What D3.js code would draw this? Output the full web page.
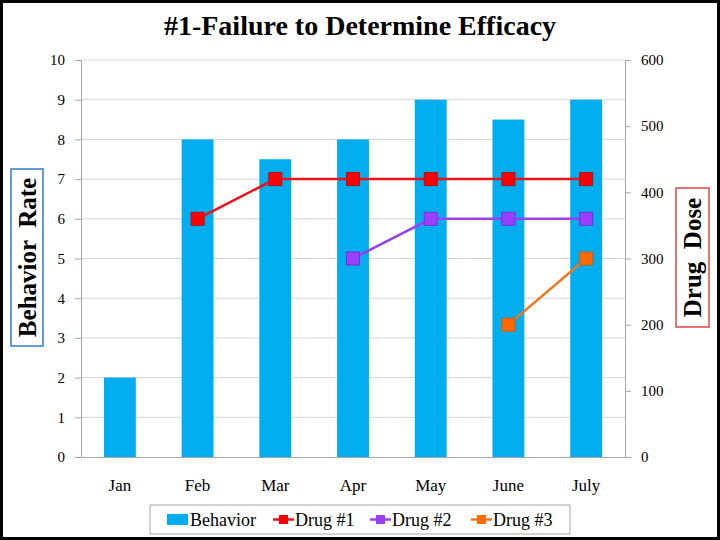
<!DOCTYPE html>
<html>
<head>
<meta charset="utf-8">
<script src="https://cdn.jsdelivr.net/npm/d3@7"></script>
<style>
  body { margin: 0; background: #fff; }
  text { font-family: "Liberation Serif", "DejaVu Serif", serif; }
</style>
</head>
<body>
<svg id="chart" width="720" height="540"></svg>
<script>
// chart data
var months = ['Jan', 'Feb', 'Mar', 'Apr', 'May', 'June', 'July'];
var behavior = [2, 8, 7.5, 8, 9, 8.5, 9];
var drug1 = [null, 360, 420, 420, 420, 420, 420];
var drug2 = [null, null, null, 300, 360, 360, 360];
var drug3 = [null, null, null, null, null, 200, 300];
var leftTicks = [0, 1, 2, 3, 4, 5, 6, 7, 8, 9, 10];
var rightTicks = [0, 100, 200, 300, 400, 500, 600];

var svg = d3.select('#chart');

// outer frame
svg.append('rect')
  .attr('x', 1.5).attr('y', 1.5)
  .attr('width', 717).attr('height', 537)
  .attr('fill', '#fff')
  .attr('stroke', '#000')
  .attr('stroke-width', 3);

var plot = {left: 81, right: 625, top: 60, bottom: 457};

var x = d3.scaleBand()
  .domain(months)
  .range([plot.left, plot.right])
  .paddingInner(0.59)
  .paddingOuter(0.295);

var xc = function(m) { return x(m) + x.bandwidth() / 2; };

var yL = d3.scaleLinear().domain([0, 10]).range([plot.bottom, plot.top]);
var yR = d3.scaleLinear().domain([0, 600]).range([plot.bottom, plot.top]);

// gridlines
svg.append('g')
  .selectAll('line')
  .data(leftTicks.slice(1))
  .enter()
  .append('line')
  .attr('x1', plot.left).attr('x2', plot.right)
  .attr('y1', function(d) { return yL(d); })
  .attr('y2', function(d) { return yL(d); })
  .attr('stroke', '#d4d4d4')
  .attr('stroke-width', 1);

// bars
svg.append('g')
  .selectAll('rect')
  .data(behavior)
  .enter()
  .append('rect')
  .attr('x', function(d, i) { return x(months[i]); })
  .attr('width', x.bandwidth())
  .attr('y', function(d) { return yL(d); })
  .attr('height', function(d) { return plot.bottom - yL(d); })
  .attr('fill', '#00AEEF');

// axes
var leftAxis = svg.append('g')
  .attr('transform', 'translate(' + plot.left + ',0)')
  .call(d3.axisLeft(yL).tickValues(leftTicks).tickSize(6).tickPadding(10));

var rightAxis = svg.append('g')
  .attr('transform', 'translate(' + plot.right + ',0)')
  .call(d3.axisRight(yR).tickValues(rightTicks).tickSize(6).tickPadding(10));

var bottomAxis = svg.append('g')
  .attr('transform', 'translate(0,' + plot.bottom + ')')
  .call(d3.axisBottom(x).tickSize(0).tickPadding(22));

[leftAxis, rightAxis, bottomAxis].forEach(function(a) {
  a.selectAll('path, line').attr('stroke', '#a6a6a6');
  a.selectAll('text')
    .attr('fill', '#000')
    .style('font-family', '"Liberation Serif", serif')
    .style('font-size', '15px');
});
bottomAxis.select('path').attr('stroke', '#a6a6a6');
bottomAxis.selectAll('text').style('font-size', '17px');

// drug lines
var drugs = [
  {name: 'Drug #1', values: drug1, color: '#E8141C', marker: '#FF0000', edge: '#B0101A'},
  {name: 'Drug #2', values: drug2, color: '#9B3FF0', marker: '#9B3FFF', edge: '#7A2FD0'},
  {name: 'Drug #3', values: drug3, color: '#F27420', marker: '#FF6A00', edge: '#D05A10'}
];

var line = d3.line()
  .defined(function(d) { return d.v !== null; })
  .x(function(d) { return xc(d.m); })
  .y(function(d) { return yR(d.v); });

drugs.forEach(function(s) {
  var pts = s.values.map(function(v, i) { return {m: months[i], v: v}; });
  svg.append('path')
    .datum(pts)
    .attr('d', line)
    .attr('fill', 'none')
    .attr('stroke', s.color)
    .attr('stroke-width', 2.5);
  svg.append('g')
    .selectAll('rect')
    .data(pts.filter(function(d) { return d.v !== null; }))
    .enter()
    .append('rect')
    .attr('x', function(d) { return xc(d.m) - 6.5; })
    .attr('y', function(d) { return yR(d.v) - 6.5; })
    .attr('width', 13).attr('height', 13)
    .attr('fill', s.marker)
    .attr('stroke', s.edge)
    .attr('stroke-width', 1);
});

// title
svg.append('text')
  .attr('x', 360).attr('y', 35)
  .attr('text-anchor', 'middle')
  .style('font-size', '28px')
  .style('font-weight', 'bold')
  .text('#1-Failure to Determine Efficacy');

// axis titles in boxes
svg.append('rect')
  .attr('x', 11).attr('y', 169).attr('width', 32).attr('height', 177)
  .attr('fill', 'none').attr('stroke', '#2E7BD0').attr('stroke-width', 1.5);
svg.append('text')
  .attr('transform', 'translate(36,257.5) rotate(-90)')
  .attr('text-anchor', 'middle')
  .style('font-size', '25px')
  .style('font-weight', 'bold')
  .style('white-space', 'pre')
  .text('Behavior  Rate');

svg.append('rect')
  .attr('x', 676).attr('y', 188).attr('width', 33).attr('height', 139)
  .attr('fill', 'none').attr('stroke', '#E04848').attr('stroke-width', 1.5);
svg.append('text')
  .attr('transform', 'translate(701,257.5) rotate(-90)')
  .attr('text-anchor', 'middle')
  .style('font-size', '25px')
  .style('font-weight', 'bold')
  .style('white-space', 'pre')
  .text('Drug  Dose');

// legend
var legend = svg.append('g');
legend.append('rect')
  .attr('x', 150).attr('y', 505).attr('width', 420).attr('height', 29)
  .attr('fill', '#fff').attr('stroke', '#a6a6a6').attr('stroke-width', 1);

legend.append('rect')
  .attr('x', 167).attr('y', 514).attr('width', 21).attr('height', 11)
  .attr('fill', '#00AEEF');
legend.append('text')
  .attr('x', 190).attr('y', 526)
  .style('font-size', '18px')
  .text('Behavior');

var legendX = [273, 370, 471];
drugs.forEach(function(s, i) {
  var lx = legendX[i];
  legend.append('line')
    .attr('x1', lx).attr('x2', lx + 21)
    .attr('y1', 519.5).attr('y2', 519.5)
    .attr('stroke', s.color).attr('stroke-width', 2.5);
  legend.append('rect')
    .attr('x', lx + 6).attr('y', 515).attr('width', 9).attr('height', 9)
    .attr('fill', s.marker);
  legend.append('text')
    .attr('x', lx + 22).attr('y', 526)
    .style('font-size', '18px')
    .text(s.name);
});
</script>
</body>
</html>
